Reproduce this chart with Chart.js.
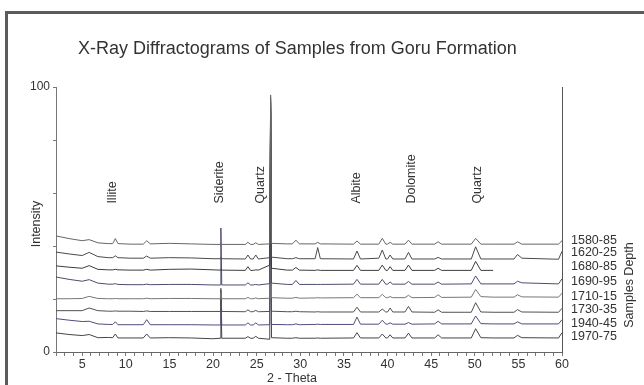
<!DOCTYPE html>
<html>
<head>
<meta charset="utf-8">
<title>X-Ray Diffractograms</title>
<script src="https://cdn.jsdelivr.net/npm/chart.js@4.4.1/dist/chart.umd.min.js"></script>
<style>
    html, body { margin: 0; padding: 0; background: #fff; }
    #wrap { position: relative; width: 644px; height: 385px; overflow: hidden; }
    #frame {
        position: absolute; left: 5px; top: 11px; right: -10px; bottom: -10px;
        border-top: 3px solid #5b5b5b; border-left: 3px solid #5b5b5b;
    }
    canvas { position: absolute; left: 0; top: 0; }
</style>
</head>
<body>
<div id="wrap">
    <div id="frame"></div>
    <canvas id="xrd" width="644" height="385"></canvas>
</div>
<script>
// 2-theta positions shared by all traces
const theta = [2, 3.5, 5, 5.8, 6.8, 8, 8.5, 8.8, 9.1, 10.5, 12.0, 12.4, 12.8, 15, 17.5, 20,
    20.8, 20.9, 21.0, 23.7, 24.0, 24.3, 24.6, 24.9, 25.2, 26.5, 26.6, 26.7, 28.5, 29.1, 29.5, 29.9,
    31.7, 32.0, 32.3, 36.1, 36.5, 36.9, 39.0, 39.4, 39.8, 40.0, 40.3, 40.6, 42.0, 42.4, 42.8,
    45.4, 45.8, 46.2, 49.6, 50.1, 50.7, 52.1, 54.5, 54.9, 55.4, 59.6, 60];

// intensities (stacked traces)
const s1580 = [43.8, 42.8, 42.0, 42.4, 41.2, 40.9, 40.9, 42.8, 40.9, 40.7, 40.7, 42.0, 40.8, 41.0, 40.8, 40.6,
    40.6, 41.0, 40.6, 40.6, 41.4, 40.6, 40.6, 41.2, 40.6, 40.8, 97, 41.0, 40.8, 40.8, 42.2, 40.8,
    40.8, 41.4, 40.8, 40.7, 41.9, 40.7, 40.7, 42.9, 40.7, 40.7, 41.4, 40.7, 40.7, 42.2, 40.7,
    40.7, 41.6, 40.7, 40.7, 42.9, 40.7, 40.7, 40.7, 41.6, 40.7, 40.7, 42.0];
const s1620 = [37.7, 37.0, 36.4, 37.6, 36.0, 35.6, 35.6, 36.3, 35.6, 35.4, 35.4, 36.2, 35.4, 35.6, 35.5, 35.2,
    35.2, 35.6, 35.2, 35.1, 36.6, 35.1, 35.1, 36.6, 35.1, 35.6, 96, 35.8, 35.2, 35.2, 35.6, 35.2,
    35.2, 39.4, 35.2, 35.1, 38.1, 35.1, 35.4, 38.5, 35.1, 35.1, 36.6, 35.1, 35.1, 37.6, 35.1,
    35.1, 35.7, 35.1, 35.1, 39.7, 35.1, 35.1, 35.1, 36.8, 35.4, 35.0, 38.0];
const s1680 = [32.5, 32.0, 31.6, 32.6, 31.2, 31.0, 31.0, 31.2, 31.0, 30.9, 30.9, 31.2, 30.9, 31.2, 31.3, 31.0,
    30.9, 31.2, 30.9, 30.8, 32.2, 30.8, 30.8, 31.0, 30.9, 32.8, 95, 31.6, 30.9, 30.9, 31.9, 30.9,
    30.8, 31.0, 30.8, 30.8, 32.7, 30.8, 30.8, 32.8, 30.8, 30.8, 32.2, 30.8, 30.8, 32.8, 30.8,
    30.8, 31.6, 30.8, 30.8, 34.2, 30.8, 30.8, null, null, null, null, null];
const s1690 = [28.3, 27.4, 26.7, 27.3, 26.0, 25.6, 25.6, 25.8, 25.5, 25.4, 25.4, 25.6, 25.4, 25.5, 25.5, 25.3,
    25.3, 46.8, 25.3, 25.3, 26.1, 25.3, 25.3, 25.5, 25.3, 25.8, 94, 26.0, 25.5, 25.5, 27.0, 25.5,
    25.5, 25.5, 25.5, 25.6, 27.4, 25.6, 25.6, 27.4, 25.6, 25.6, 26.4, 25.6, 25.6, 26.6, 25.6,
    25.6, 26.4, 25.6, 25.7, 28.7, 25.7, 25.7, 25.7, 26.7, 26.1, 25.7, 27.6];
const s1710 = [20.1, 20.1, 20.2, 21.0, 20.2, 20.1, 20.1, 20.2, 20.1, 20.1, 20.1, 20.3, 20.1, 20.2, 20.2, 20.1,
    20.1, 22.5, 20.1, 20.1, 20.6, 20.1, 20.1, 20.4, 20.1, 20.3, 93, 20.5, 20.3, 20.3, 20.6, 20.3,
    20.4, 20.5, 20.4, 20.5, 21.8, 20.5, 20.5, 21.8, 20.5, 20.5, 20.9, 20.5, 20.5, 21.4, 20.5,
    20.6, 21.6, 20.6, 20.7, 23.6, 20.9, 20.7, 20.7, 21.6, 20.8, 20.7, 22.2];
const s1730 = [15.6, 15.6, 15.6, 16.6, 15.6, 15.4, 15.4, 15.5, 15.4, 15.4, 15.3, 15.5, 15.3, 15.3, 15.3, 15.3,
    15.3, 21.5, 15.3, 15.2, 15.9, 15.2, 15.2, 15.7, 15.2, 15.3, 92, 15.4, 15.2, 15.2, 15.4, 15.2,
    15.1, 15.2, 15.1, 15.1, 16.9, 15.1, 15.1, 16.2, 15.1, 15.1, 16.6, 15.1, 15.1, 17.2, 15.1,
    15.0, 15.9, 15.0, 15.0, 18.6, 15.1, 15.0, 15.0, 16.0, 15.1, 15.0, 16.5];
const s1940 = [12.6, 12.0, 11.5, 11.6, 10.6, 10.4, 10.4, 11.4, 10.3, 10.3, 10.3, 12.2, 10.3, 10.3, 10.3, 10.2,
    10.2, 23.0, 10.2, 10.2, 11.0, 10.2, 10.2, 11.0, 10.2, 10.3, 91, 10.4, 10.3, 10.3, 10.6, 10.3,
    10.4, 10.5, 10.4, 10.4, 13.2, 10.5, 10.5, 12.0, 10.5, 10.5, 11.0, 10.5, 10.5, 11.1, 10.5,
    10.6, 11.6, 10.6, 10.6, 13.6, 10.7, 10.6, 10.6, 11.4, 10.6, 10.6, 12.2];
const s1970 = [7.2, 6.6, 6.2, 6.6, 5.4, 5.5, 5.4, 6.8, 5.3, 5.3, 5.3, 6.8, 5.3, 5.4, 5.3, 5.0,
    5.2, 24.0, 5.2, 5.2, 5.8, 5.2, 5.2, 5.9, 5.2, 4.8, 90, 5.4, 5.2, 5.2, 5.4, 5.2,
    5.2, 5.3, 5.2, 5.3, 7.3, 5.3, 5.3, 6.8, 5.3, 5.3, 6.5, 5.3, 5.3, 7.1, 5.3,
    5.3, 6.5, 5.3, 5.3, 8.8, 5.4, 5.3, 5.3, 6.3, 5.4, 5.3, 7.3];

const sampleNames = ['1580-85', '1620-25', '1680-85', '1690-95', '1710-15', '1730-35', '1940-45', '1970-75'];
const sampleValues = [s1580, s1620, s1680, s1690, s1710, s1730, s1940, s1970];
const sampleColors = ['#666666', '#4a4a4a', '#3c3c3c', '#4c4c70', '#7a7570', '#505050', '#4e4e7c', '#454545'];
// label row for each sample name on the right (intensity units)
const sampleLabelLevel = [41.9, 37.4, 32.1, 26.4, 21.1, 16.2, 10.9, 5.7];

// mineral peak annotations
const minerals = ['Illite', 'Siderite', 'Quartz', 'Albite', 'Dolomite', 'Quartz'];
const mineralTheta = [8.5, 20.8, 25.4, 36.5, 42.7, 50.3];

const FONT = '"Liberation Sans", Arial, sans-serif';

const datasets = sampleNames.map(function (name, i) {
    return {
        label: name,
        data: theta.map(function (t, j) { return { x: t, y: sampleValues[i][j] }; }),
        borderColor: sampleColors[i],
        borderWidth: 1,
        pointRadius: 0,
        tension: 0,
        spanGaps: false
    };
});

const textPlugin = {
    id: 'textPlugin',
    afterDraw: function (chart) {
        const c = chart.ctx;
        const xs = chart.scales.x, ys = chart.scales.y;
        const area = chart.chartArea;
        c.save();
        c.fillStyle = '#333';

        // title
        c.font = '18px ' + FONT;
        c.textAlign = 'left';
        c.textBaseline = 'middle';
        c.fillText('X-Ray Diffractograms of Samples from Goru Formation', 78, 49);

        // sample names
        c.font = '12.5px ' + FONT;
        sampleNames.forEach(function (name, i) {
            c.fillText(name, area.right + 9, ys.getPixelForValue(sampleLabelLevel[i]));
        });

        // x axis title
        c.textAlign = 'center';
        c.fillText('2 - Theta', 292, 379);

        // rotated texts
        function vtext(txt, x, y, align) {
            c.save();
            c.translate(x, y);
            c.rotate(-Math.PI / 2);
            c.textAlign = align;
            c.textBaseline = 'middle';
            c.fillText(txt, 0, 0);
            c.restore();
        }
        vtext('Intensity', 37, 224, 'center');
        vtext('Samples Depth', 630, 285, 'center');
        minerals.forEach(function (m, i) {
            vtext(m, xs.getPixelForValue(mineralTheta[i]), ys.getPixelForValue(56), 'left');
        });
        c.restore();
    }
};

new Chart(document.getElementById('xrd'), {
    type: 'line',
    data: { datasets: datasets },
    plugins: [textPlugin],
    options: {
        responsive: false,
        animation: false,
        devicePixelRatio: 1,
        layout: { padding: { left: 0, top: 87, right: 82, bottom: 0 } },
        plugins: { legend: { display: false }, tooltip: { enabled: false }, title: { display: false } },
        scales: {
            x: {
                type: 'linear',
                min: 2,
                max: 60,
                grid: { drawOnChartArea: false, drawTicks: true, tickLength: 4, color: '#777' },
                border: { color: '#666', width: 1 },
                ticks: {
                    stepSize: 1,
                    autoSkip: false,
                    maxRotation: 0,
                    padding: 1,
                    color: '#333',
                    font: { family: FONT, size: 12.5 },
                    callback: function (v) { return v % 5 === 0 ? v : ''; }
                },
                afterFit: function (s) { s.height = 33; s.paddingLeft = 0; s.paddingRight = 0; }
            },
            y: {
                min: 0,
                max: 100,
                grid: { drawOnChartArea: false, drawTicks: true, tickLength: 3, color: '#777' },
                border: { color: '#777', width: 1 },
                ticks: {
                    stepSize: 20,
                    padding: 3,
                    color: '#333',
                    font: { family: FONT, size: 12 },
                    callback: function (v) { return (v === 0 || v === 100) ? v : ''; }
                },
                afterFit: function (s) { s.width = 56; s.paddingTop = 0; s.paddingBottom = 0; }
            },
            y2: {
                position: 'right',
                min: 0,
                max: 100,
                grid: { display: false },
                border: { color: '#555', width: 1 },
                ticks: { display: false },
                afterFit: function (s) { s.width = 0; s.paddingTop = 0; s.paddingBottom = 0; }
            }
        }
    }
});
</script>
</body>
</html>
